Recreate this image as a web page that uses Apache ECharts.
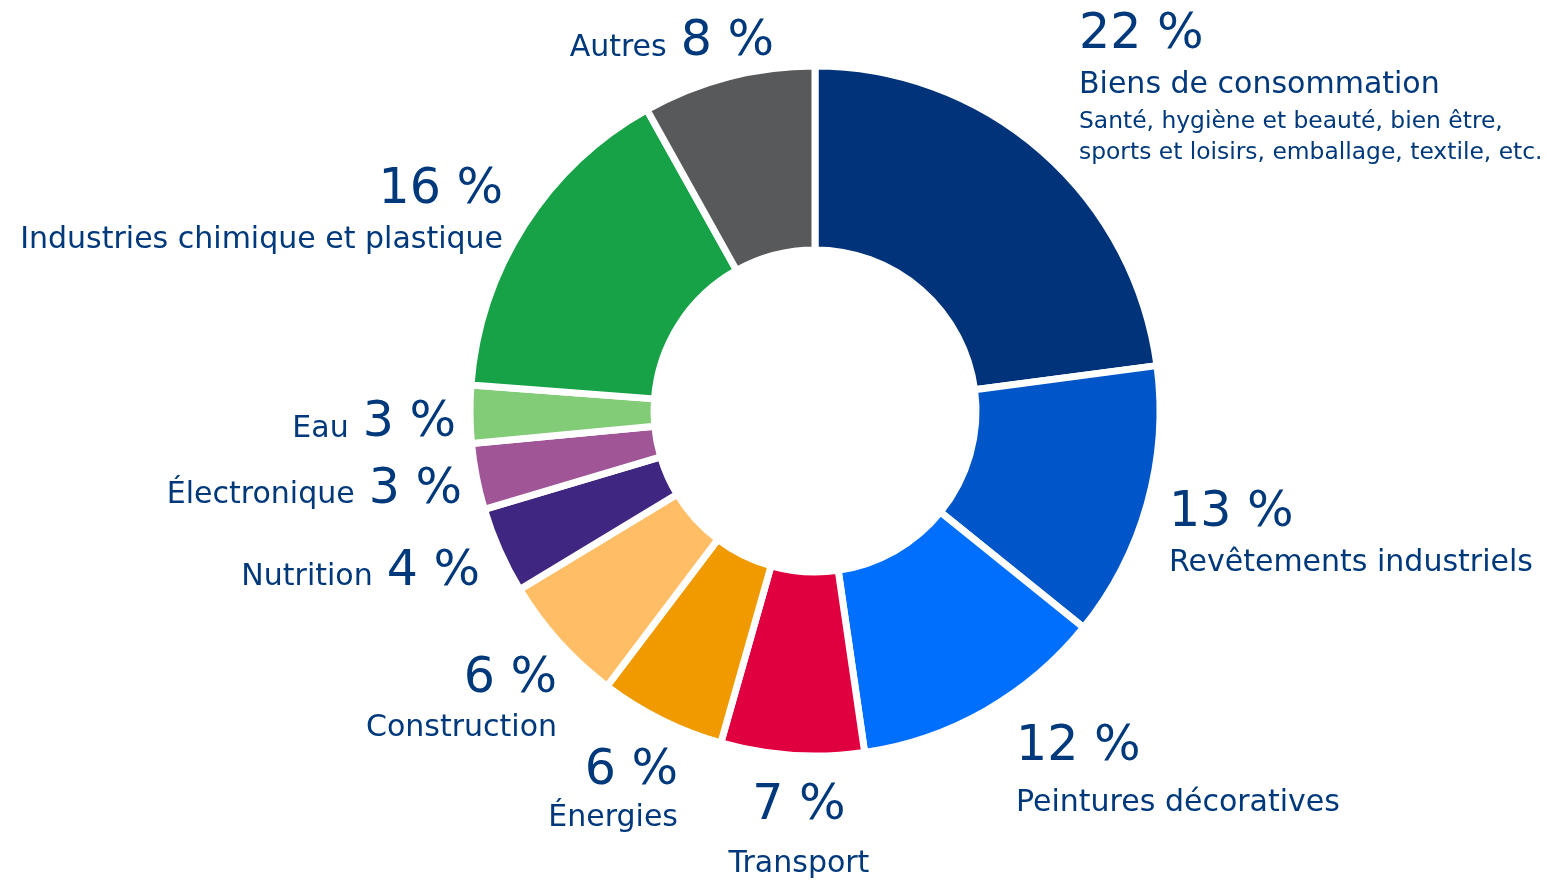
<!DOCTYPE html>
<html>
<head>
<meta charset="utf-8">
<script src="https://cdn.jsdelivr.net/npm/echarts@6/dist/echarts.min.js"></script>
<style>
  html, body { margin: 0; padding: 0; background: #fff; }
  #main { width: 1547px; height: 883px; }
</style>
</head>
<body>
<div id="main"></div>
<script>
// sectors, clockwise from 12 o'clock
const sectors = ['Biens de consommation', 'Revêtements industriels', 'Peintures décoratives', 'Transport',
  'Énergies', 'Construction', 'Nutrition', 'Électronique', 'Eau', 'Industries chimique et plastique', 'Autres'];
// slice sizes (labels below are the printed, rounded ones)
const shares = [22.9, 12.9, 11.9, 6.7, 5.9, 6.05, 4.05, 3.1, 2.7, 15.7, 8.1];
const percentLabels = ['22 %', '13 %', '12 %', '7 %', '6 %', '6 %', '4 %', '3 %', '3 %', '16 %', '8 %'];
const biensDetail = ['Santé, hygiène et beauté, bien être,', 'sports et loisirs, emballage, textile, etc.'];

const colors = ['#00337a', '#0055c8', '#006ffd', '#e1003f', '#f09a00', '#ffbd66',
  '#3e2681', '#9f5596', '#82cc78', '#18a247', '#58595b'];
const textColor = '#00397b';
const font = "'DejaVu Sans', Verdana, sans-serif";

// label blocks: [x, top y, align, single line?, name line height]
const labelPos = [
  [1079, 5, 'left', false, 41],
  [1169, 488, 'left', false, 50.6],
  [1016, 722, 'left', false, 62],
  [799, 781, 'center', false, 66],
  [678, 746, 'right', false, 44],
  [557, 654, 'right', false, 48],
  [480, 546.5, 'right', true, 0],
  [462, 464.5, 'right', true, 0],
  [456, 398, 'right', true, 0],
  [503, 165, 'right', false, 50.6],
  [774, 17, 'right', true, 0]
];

const chart = echarts.init(document.getElementById('main'), null, { renderer: 'canvas' });

const data = sectors.map((name, i) => ({
  name: name,
  value: shares[i],
  itemStyle: { color: colors[i] }
}));

const alignKey = { left: 'L', right: 'R', center: 'C' };

const formatLabel = (p) => {
  const i = p.dataIndex;
  const pos = labelPos[i];
  if (pos[3]) {
    return '{nameIn|' + sectors[i] + '}{pctIn|' + percentLabels[i] + '}';
  }
  const k = alignKey[pos[2]];
  let s = (i === 0 ? '{pctTop|' : '{pct' + k + '|') + percentLabels[i] + '}\n{name' + i + '|' + sectors[i] + '}';
  if (i === 0) {
    s += '\n{sub|' + biensDetail[0] + '}\n{sub|' + biensDetail[1] + '}';
  }
  return s;
};

const rich = {};
Object.keys(alignKey).forEach((a) => {
  rich['pct' + alignKey[a]] = { fontSize: 49, lineHeight: 50, color: textColor, fontFamily: font, align: a };
});
labelPos.forEach((pos, i) => {
  rich['name' + i] = { fontSize: 30, lineHeight: pos[4] || 40, color: textColor, fontFamily: font, align: pos[2] };
});
rich.pctTop = { fontSize: 49, lineHeight: 60, color: textColor, fontFamily: font, align: 'left' };
rich.sub = { fontSize: 23.4, lineHeight: 31, color: textColor, fontFamily: font, align: 'left' };
rich.nameIn = { fontSize: 30, lineHeight: 50, color: textColor, fontFamily: font, verticalAlign: 'bottom', padding: [0, 14, 4, 0] };
rich.pctIn = { fontSize: 49, lineHeight: 50, color: textColor, fontFamily: font, verticalAlign: 'bottom' };

const option = {
  animation: false,
  backgroundColor: '#fff',
  series: [{
    type: 'pie',
    center: [815, 411],
    radius: [161, 345],
    startAngle: 90,
    clockwise: true,
    avoidLabelOverlap: false,
    itemStyle: { borderColor: '#fff', borderWidth: 7 },
    label: {
      show: true,
      position: 'outside',
      formatter: formatLabel,
      rich: rich
    },
    labelLine: { show: false },
    labelLayout: (params) => {
      const pos = labelPos[params.dataIndex];
      return { x: pos[0], y: pos[1], align: pos[2], verticalAlign: 'top' };
    },
    emphasis: { disabled: true },
    data: data
  }]
};

chart.setOption(option);
window.addEventListener('resize', chart.resize);
</script>
</body>
</html>
